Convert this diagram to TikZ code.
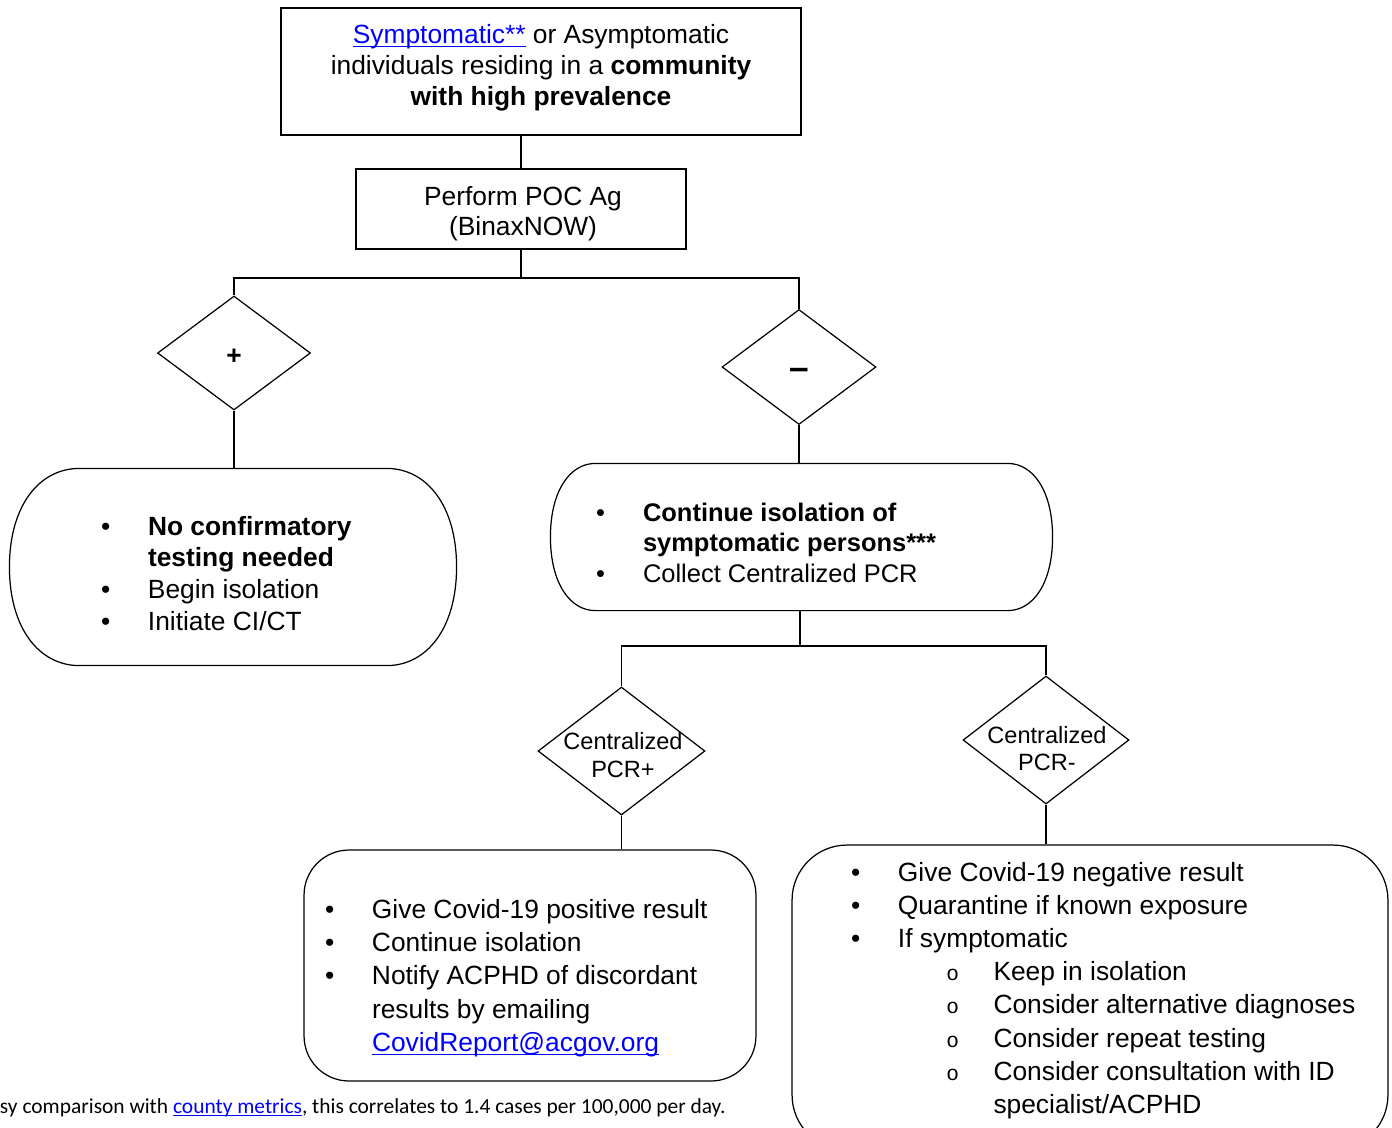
\documentclass[tikz,border=0pt]{standalone}
\usepackage{fontspec}
\setmainfont{Liberation Sans}
\setmonofont{Liberation Mono}
\newfontfamily\notefont{Carlito}
\usetikzlibrary{shapes.geometric}
\definecolor{linkblue}{RGB}{0,0,255}
\newcommand{\lnk}[1]{\textcolor{linkblue}{\underline{\smash{#1}}}}
\newcommand{\itm}{\makebox[0.94cm][l]{\textbullet}}
\newcommand{\subitm}{\makebox[1.91cm][l]{\hspace*{0.965cm}{\ttfamily\fontsize{12}{12}\selectfont o}}}
% outline of a pill node: node, end bulge, half height
\newcommand{\pilldraw}[3]{%
  \draw ([xshift=#2]#1.north west) -- ([xshift=-#2]#1.north east)
    .. controls ([xshift=-0.43*#2]#1.north east) and ([yshift=0.63*#3]#1.east) .. (#1.east)
    .. controls ([yshift=-0.63*#3]#1.east) and ([xshift=-0.43*#2]#1.south east) .. ([xshift=-#2]#1.south east)
    -- ([xshift=#2]#1.south west)
    .. controls ([xshift=0.43*#2]#1.south west) and ([yshift=-0.63*#3]#1.west) .. (#1.west)
    .. controls ([yshift=0.63*#3]#1.west) and ([xshift=0.43*#2]#1.north west) .. cycle;}
\begin{document}
\begin{tikzpicture}[x=0.02cm, y=-0.02cm, line width=0.7pt,
   box_style/.style={draw=black, inner sep=0pt},
   pill_style/.style={inner sep=0pt},
   dec_style/.style={draw=black, diamond, inner sep=0pt, font=\bfseries\fontsize{15}{18}\selectfont},
   txt_style/.style={inner sep=0pt, align=center, font=\fontsize{15}{17.6}\selectfont},
   list_style/.style={inner sep=0pt, anchor=base west},
   dtxt_style/.style={inner sep=0pt, align=center, font=\fontsize{13.4}{15.6}\selectfont},
   edge_style/.style={draw=black, line width=0.8pt}]

    \useasboundingbox (0,0) rectangle (1392,1127);

    % boxes and decisions
    \node[box_style, minimum width=10.4cm, minimum height=2.54cm] (start) at (541,71.5) {};
    \node[txt_style] (start_txt) at (541,68) {\lnk{Symptomatic**} or Asymptomatic\\individuals residing in a \textbf{community}\\\textbf{with high prevalence}};
    \node[box_style, minimum width=6.6cm, minimum height=1.6cm] (poc) at (521,209) {};
    \node[txt_style, font=\fontsize{15}{17}\selectfont] (poc_txt) at (523,214) {Perform POC Ag\\(BinaxNOW)};
    \node[dec_style, minimum width=3.06cm, minimum height=2.28cm] (pos) at (234,353) {\raisebox{-2.3pt}[\height][\depth]{+}};
    \node[dec_style, minimum width=3.08cm, minimum height=2.3cm] (neg) at (799,367) {\raisebox{-4pt}[\height][0pt]{\fontsize{20}{20}\selectfont --}};
    \node[pill_style, minimum width=8.92cm, minimum height=3.92cm] (pos_act) at (233,567) {};
    \node[pill_style, minimum width=10.02cm, minimum height=2.92cm] (neg_act) at (801.5,537) {};
    \pilldraw{pos_act}{1.4cm}{1.96cm}
    \pilldraw{neg_act}{0.9cm}{1.46cm}
    \node[dec_style, minimum width=3.34cm, minimum height=2.56cm] (pcr_pos) at (621.5,751) {};
    \node[dtxt_style] (pcr_pos_txt) at (623,755) {Centralized\\PCR+};
    \node[dec_style, minimum width=3.32cm, minimum height=2.56cm] (pcr_neg) at (1046,740) {};
    \node[dtxt_style] (pcr_neg_txt) at (1047,748.5) {Centralized\\PCR-};
    \node[box_style, rounded corners=0.9cm, minimum width=9.04cm, minimum height=4.62cm] (pcr_pos_act) at (530,965.5) {};
    \node[box_style, rounded corners=1.1cm, minimum width=11.92cm, minimum height=6.1cm] (pcr_neg_act) at (1090,997.5) {};

    % lists
    \node[list_style, font=\fontsize{15}{18.1}\selectfont] (pos_list) at (100.4,535) {\begin{tabular}[t]{@{}l@{}l@{}}
      \itm & \textbf{No confirmatory}\\
           & \textbf{testing needed}\\
      \itm & Begin isolation\\
      \itm & Initiate CI/CT
    \end{tabular}};
    \node[list_style, font=\fontsize{14.5}{17.6}\selectfont] (neg_list) at (595.4,521) {\begin{tabular}[t]{@{}l@{}l@{}}
      \itm & \textbf{Continue isolation of}\\
           & \textbf{symptomatic persons***}\\
      \itm & Collect Centralized PCR
    \end{tabular}};
    \node[list_style, font=\fontsize{15}{19}\selectfont] (pcr_pos_list) at (324.4,918) {\begin{tabular}[t]{@{}l@{}l@{}}
      \itm & Give Covid-19 positive result\\
      \itm & Continue isolation\\
      \itm & Notify ACPHD of discordant\\
           & results by emailing\\
           & \lnk{CovidReport@acgov.org}
    \end{tabular}};
    \node[list_style, font=\fontsize{15}{18.9}\selectfont] (pcr_neg_list) at (850.4,881) {\begin{tabular}[t]{@{}l@{}l@{}l@{}}
      \itm & \multicolumn{2}{@{}l@{}}{Give Covid-19 negative result}\\
      \itm & \multicolumn{2}{@{}l@{}}{Quarantine if known exposure}\\
      \itm & \multicolumn{2}{@{}l@{}}{If symptomatic}\\
           & \subitm & Keep in isolation\\
           & \subitm & Consider alternative diagnoses\\
           & \subitm & Consider repeat testing\\
           & \subitm & Consider consultation with ID\\
           &         & specialist/ACPHD
    \end{tabular}};

    % footnote
    \node[inner sep=0pt, anchor=base east, font=\notefont\fontsize{12.2}{14}\selectfont] (note) at (726,1113) {sy comparison with \lnk{county metrics}, this correlates to 1.4 cases per 100,000 per day.};

    % connectors
    \coordinate (split_top) at (521,278);
    \coordinate (split_mid) at (800,646);
    \path[edge_style] (poc.north) -- (poc.north |- start.south);
    \path[edge_style] (poc.south) -- (split_top) -| (pos.north);
    \path[edge_style] (split_top) -| (neg.north);
    \path[edge_style] (pos.south) -- (pos.south |- pos_act.north);
    \path[edge_style] (neg.south) -- (neg.south |- neg_act.north);
    \path[edge_style] (split_mid |- neg_act.south) -- (split_mid) -| (pcr_pos.north);
    \path[edge_style] (split_mid) -| (pcr_neg.north);
    \path[edge_style] (pcr_pos.south) -- (pcr_pos.south |- pcr_pos_act.north);
    \path[edge_style] (pcr_neg.south) -- (pcr_neg.south |- pcr_neg_act.north);
\end{tikzpicture}
\end{document}
